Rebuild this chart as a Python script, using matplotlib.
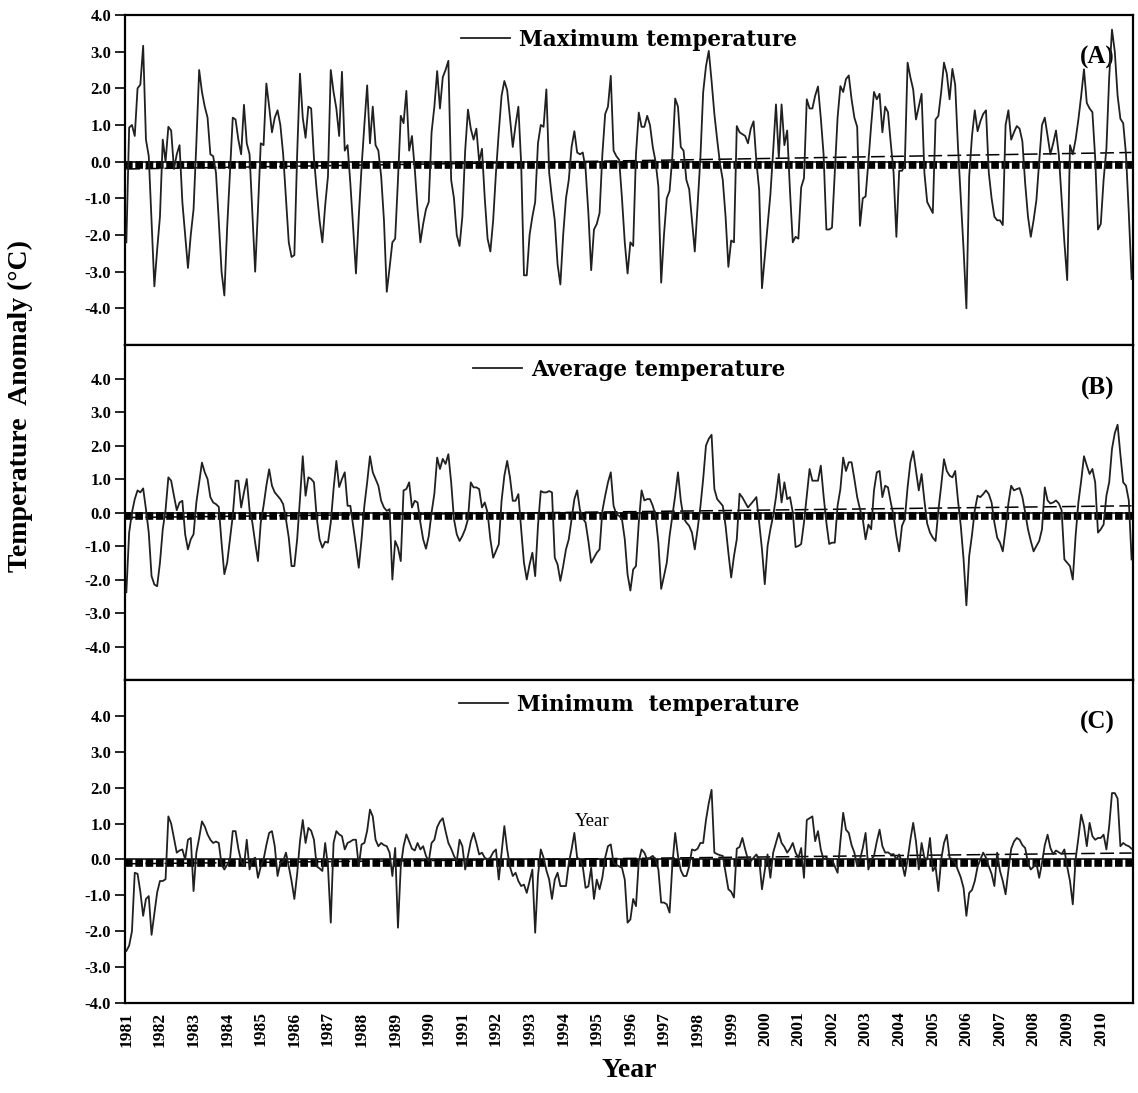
#!/usr/bin/env python3
import matplotlib
import matplotlib.figure
import numpy as np
from matplotlib.ticker import FormatStrFormatter


YEARS = list(range(1981, 2011))

# monthly anomalies in deg C, one row per year (Jan..Dec)
TMAX = [
    -2.2, 0.93, 1.0, 0.7, 2.0, 2.1, 3.16, 0.6, 0.15, -1.6, -3.4, -2.4,       # 1981
    -1.5, 0.6, 0.0, 0.95, 0.85, -0.2, 0.2, 0.45, -1.1, -2.0, -2.9, -2.0,     # 1982
    -1.3, 0.5, 2.5, 1.9, 1.5, 1.2, 0.2, 0.15, -0.3, -1.6, -3.0, -3.65,       # 1983
    -1.8, -0.3, 1.2, 1.15, 0.6, 0.2, 1.55, 0.5, 0.2, -1.4, -3.0, -1.3,       # 1984
    0.5, 0.45, 2.13, 1.5, 0.8, 1.2, 1.4, 1.0, 0.2, -1.0, -2.2, -2.6,         # 1985
    -2.55, 0.2, 2.4, 1.2, 0.65, 1.5, 1.45, 0.1, -0.8, -1.6, -2.2, -1.2,      # 1986
    -0.4, 2.5, 1.9, 1.45, 0.7, 2.45, 0.3, 0.45, -0.6, -1.8, -3.05, -1.5,     # 1987
    -0.15, 1.0, 2.08, 0.5, 1.5, 0.45, 0.3, -0.4, -1.6, -3.55, -2.9, -2.2,    # 1988
    -2.1, -0.5, 1.25, 1.05, 1.93, 0.3, 0.7, -0.2, -1.3, -2.2, -1.7, -1.3,    # 1989
    -1.1, 0.8, 1.5, 2.47, 1.45, 2.3, 2.5, 2.75, -0.5, -1.0, -2.0, -2.3,      # 1990
    -1.5, 0.3, 1.42, 0.9, 0.6, 0.9, 0.0, 0.35, -1.0, -2.1, -2.45, -1.6,      # 1991
    -0.3, 0.8, 1.8, 2.2, 1.95, 1.2, 0.4, 1.0, 1.5, -0.05, -3.1, -3.1,        # 1992
    -2.0, -1.5, -1.1, 0.5, 1.0, 0.95, 1.97, -0.3, -1.0, -1.6, -2.8, -3.35,   # 1993
    -2.0, -1.0, -0.5, 0.4, 0.83, 0.25, 0.2, 0.25, -0.2, -1.4, -2.96, -1.85,  # 1994
    -1.7, -1.4, 0.2, 1.3, 1.5, 2.34, 0.3, 0.15, 0.05, -1.0, -2.2, -3.05,     # 1995
    -2.2, -2.3, 0.2, 1.34, 0.95, 0.95, 1.25, 1.0, 0.4, 0.0, -0.68, -3.3,     # 1996
    -2.0, -1.0, -0.8, 0.15, 1.72, 1.5, 0.4, 0.3, -0.5, -0.75, -1.6, -2.45,   # 1997
    -1.2, 0.1, 1.9, 2.6, 3.02, 2.2, 1.3, 0.6, -0.05, -0.5, -1.5, -2.87,      # 1998
    -2.15, -2.2, 0.97, 0.8, 0.75, 0.7, 0.5, 0.9, 1.1, 0.0, -0.77, -3.45,     # 1999
    -2.6, -1.75, -0.9, 0.3, 1.56, 0.1, 1.56, 0.45, 0.85, -0.8, -2.2, -2.05,  # 2000
    -2.1, -0.7, -0.45, 1.7, 1.45, 1.45, 1.8, 2.05, 1.2, 0.2, -1.85, -1.85,   # 2001
    -1.8, -0.3, 1.2, 2.06, 1.9, 2.25, 2.35, 1.7, 1.2, 0.95, -1.75, -1.0,     # 2002
    -0.95, 0.0, 1.0, 1.9, 1.7, 1.85, 0.8, 1.5, 1.35, 0.5, -0.3, -2.05,       # 2003
    -0.25, -0.25, -0.1, 2.7, 2.3, 1.97, 1.15, 1.5, 1.85, -0.3, -1.1, -1.25,  # 2004
    -1.4, 1.15, 1.25, 1.9, 2.7, 2.4, 1.7, 2.53, 2.1, 0.4, -1.0, -2.4,        # 2005
    -4.0, -0.4, 0.7, 1.4, 0.83, 1.1, 1.3, 1.4, -0.3, -1.0, -1.5, -1.6,       # 2006
    -1.6, -1.73, 1.0, 1.4, 0.6, 0.8, 0.97, 0.9, 0.55, -0.6, -1.5, -2.05,     # 2007
    -1.6, -1.05, 0.0, 1.0, 1.2, 0.7, 0.2, 0.5, 0.85, 0.2, -1.0, -2.2,        # 2008
    -3.23, 0.45, 0.2, 0.6, 1.15, 1.8, 2.52, 1.6, 1.45, 1.35, 0.1, -1.85,     # 2009
    -1.7, -0.5, 0.35, 2.3, 3.6, 3.0, 1.8, 1.17, 1.05, 0.2, -1.4, -3.2,       # 2010
]

TAVG = [
    -2.38, -0.6, 0.0, 0.4, 0.66, 0.6, 0.72, 0.1, -0.6, -1.9, -2.15, -2.2,    # 1981
    -1.5, -0.5, 0.07, 1.05, 0.95, 0.5, 0.07, 0.3, 0.35, -0.65, -1.1, -0.8,   # 1982
    -0.65, 0.3, 0.9, 1.49, 1.2, 1.0, 0.46, 0.3, 0.25, 0.17, -0.9, -1.84,     # 1983
    -1.5, -0.8, -0.1, 0.95, 0.95, 0.15, 0.6, 1.0, 0.07, -0.3, -0.9, -1.45,   # 1984
    -0.3, 0.2, 0.8, 1.29, 0.8, 0.6, 0.5, 0.4, 0.25, -0.2, -0.75, -1.6,       # 1985
    -1.6, -0.8, 0.4, 1.68, 0.5, 1.05, 1.0, 0.9, -0.17, -0.8, -1.05, -0.87,   # 1986
    -0.9, -0.3, 0.7, 1.54, 0.76, 1.0, 1.2, 0.2, 0.2, -0.4, -1.0, -1.65,      # 1987
    -0.8, 0.2, 0.9, 1.68, 1.2, 1.0, 0.8, 0.35, 0.15, 0.05, 0.1, -2.0,        # 1988
    -0.85, -1.05, -1.45, 0.66, 0.7, 0.9, 0.15, 0.35, 0.3, -0.3, -0.8, -1.08, # 1989
    -0.7, 0.0, 0.56, 1.64, 1.3, 1.6, 1.45, 1.74, 0.9, -0.2, -0.65, -0.85,    # 1990
    -0.7, -0.5, -0.2, 0.9, 0.75, 0.75, 0.7, 0.15, 0.3, 0.0, -0.8, -1.35,     # 1991
    -1.15, -0.95, 0.35, 1.1, 1.54, 1.05, 0.35, 0.35, 0.55, -0.5, -1.5, -2.0, # 1992
    -1.55, -1.2, -1.9, -0.4, 0.64, 0.6, 0.6, 0.64, 0.6, -1.35, -1.55, -2.04, # 1993
    -1.6, -1.1, -0.8, -0.2, 0.4, 0.66, 0.07, -0.17, -0.3, -0.85, -1.5, -1.35,  # 1994
    -1.2, -1.1, 0.05, 0.5, 0.9, 1.2, 0.2, -0.05, -0.1, -0.2, -0.8, -1.85,    # 1995
    -2.33, -1.7, -1.6, -0.3, 0.66, 0.36, 0.4, 0.4, 0.2, -0.1, -0.9, -2.28,   # 1996
    -1.9, -1.5, -0.7, -0.1, 0.5, 1.2, 0.36, -0.17, -0.3, -0.4, -0.6, -1.1,   # 1997
    -0.5, 0.17, 1.0, 2.0, 2.2, 2.32, 0.7, 0.4, 0.3, 0.2, -0.4, -1.2,         # 1998
    -1.94, -1.3, -0.8, 0.56, 0.45, 0.3, 0.15, 0.25, 0.35, 0.46, -0.3, -1.1,  # 1999
    -2.14, -1.0, -0.5, -0.1, 0.46, 1.15, 0.3, 0.9, 0.4, 0.46, 0.0, -1.03,    # 2000
    -1.0, -0.94, -0.3, 0.5, 1.3, 0.95, 0.95, 0.95, 1.4, 0.5, -0.3, -0.94,    # 2001
    -0.9, -0.9, 0.2, 0.7, 1.64, 1.24, 1.5, 1.5, 1.0, 0.46, 0.1, -0.2,        # 2002
    -0.8, -0.36, -0.5, 0.66, 1.2, 1.24, 0.46, 0.8, 0.75, 0.3, -0.1, -0.7,    # 2003
    -1.16, -0.4, -0.2, 0.75, 1.5, 1.83, 1.24, 0.66, 1.15, 0.36, -0.33, -0.6, # 2004
    -0.75, -0.85, 0.07, 0.8, 1.59, 1.24, 1.1, 1.05, 1.24, 0.36, -0.4, -1.4,  # 2005
    -2.77, -1.3, -0.67, 0.07, 0.5, 0.46, 0.55, 0.66, 0.55, 0.3, -0.3, -0.75, # 2006
    -0.9, -1.16, -0.5, 0.27, 0.8, 0.66, 0.7, 0.73, 0.46, 0.0, -0.5, -0.85,   # 2007
    -1.16, -1.0, -0.85, -0.5, 0.75, 0.36, 0.27, 0.3, 0.36, 0.27, 0.07, -1.4, # 2008
    -1.5, -1.6, -2.0, -0.7, 0.3, 0.95, 1.68, 1.4, 1.15, 1.3, 0.9, -0.6,      # 2009
    -0.5, -0.36, 0.5, 0.9, 1.9, 2.37, 2.62, 1.73, 0.9, 0.8, 0.36, -1.4,      # 2010
]

TMIN = [
    -2.55, -2.4, -2.0, -0.37, -0.4, -0.9, -1.57, -1.1, -1.02, -2.1, -1.5, -0.92,  # 1981
    -0.6, -0.6, -0.55, 1.2, 1.0, 0.6, 0.19, 0.25, 0.28, 0.0, 0.55, 0.6,      # 1982
    -0.88, 0.19, 0.6, 1.06, 0.92, 0.7, 0.55, 0.46, 0.5, 0.46, -0.14, -0.28,  # 1983
    -0.15, 0.0, 0.79, 0.79, 0.3, -0.05, -0.19, 0.55, -0.28, 0.0, 0.05, -0.51,  # 1984
    -0.2, 0.0, 0.4, 0.74, 0.79, 0.37, -0.46, -0.1, -0.05, 0.19, -0.19, -0.6, # 1985
    -1.1, -0.4, 0.5, 1.1, 0.46, 0.88, 0.8, 0.55, -0.19, -0.25, -0.32, 0.46,  # 1986
    -0.19, -1.76, 0.46, 0.79, 0.7, 0.65, 0.28, 0.46, 0.5, 0.55, 0.55, -0.19, # 1987
    0.42, 0.46, 0.8, 1.39, 1.2, 0.55, 0.37, 0.46, 0.4, 0.37, 0.19, -0.46,    # 1988
    0.32, -1.9, -0.2, 0.37, 0.7, 0.5, 0.3, 0.25, 0.46, 0.28, 0.37, 0.1,      # 1989
    -0.05, 0.46, 0.55, 0.9, 1.06, 1.15, 0.79, 0.46, 0.3, 0.1, -0.05, 0.55,   # 1990
    0.37, -0.28, 0.1, 0.5, 0.74, 0.46, 0.14, 0.19, 0.05, 0.0, 0.05, 0.2,     # 1991
    0.28, -0.56, 0.19, 0.93, 0.28, -0.2, -0.46, -0.37, -0.6, -0.74, -0.7, -0.93,  # 1992
    -0.6, -0.28, -2.04, -0.46, 0.28, 0.05, -0.3, -0.56, -1.1, -0.56, -0.37, -0.74,  # 1993
    -0.74, -0.74, -0.1, 0.28, 0.74, 0.05, 0.0, -0.19, -0.79, -0.75, -0.23, -1.1,  # 1994
    -0.56, -0.83, -0.5, 0.05, 0.37, 0.42, -0.1, -0.15, -0.19, -0.23, -0.56, -1.76,  # 1995
    -1.67, -1.1, -1.3, -0.05, 0.28, 0.19, 0.0, 0.05, 0.1, 0.0, -0.28, -1.2,  # 1996
    -1.2, -1.25, -1.48, -0.14, 0.74, 0.1, -0.3, -0.46, -0.46, -0.19, 0.28, 0.25,  # 1997
    0.3, 0.46, 0.46, 1.1, 1.57, 1.94, 0.19, 0.15, 0.12, 0.1, -0.37, -0.83,   # 1998
    -0.9, -1.06, 0.3, 0.35, 0.6, 0.28, 0.0, -0.05, 0.05, 0.14, 0.0, -0.83,   # 1999
    -0.3, 0.14, -0.51, 0.19, 0.46, 0.74, 0.46, 0.35, 0.19, 0.3, 0.46, 0.19,  # 2000
    0.05, 0.32, -0.51, 1.1, 1.15, 1.2, 0.51, 0.79, 0.28, 0.0, 0.05, 0.0,     # 2001
    0.0, -0.19, -0.37, 0.5, 1.3, 0.83, 0.74, 0.4, 0.19, -0.19, 0.0, 0.32,    # 2002
    0.74, -0.28, 0.0, 0.1, 0.5, 0.83, 0.37, 0.19, 0.2, 0.14, 0.15, 0.0,      # 2003
    0.14, -0.1, -0.46, 0.0, 0.55, 1.02, 0.5, -0.28, 0.46, 0.05, 0.0, 0.6,    # 2004
    -0.32, -0.2, -0.88, 0.0, 0.46, 0.69, 0.05, 0.0, -0.1, -0.3, -0.5, -0.8,  # 2005
    -1.57, -0.93, -0.85, -0.6, -0.2, 0.0, 0.19, 0.05, -0.19, -0.4, -0.74, 0.19,  # 2006
    -0.32, -0.6, -0.97, -0.3, 0.3, 0.5, 0.6, 0.55, 0.4, 0.32, -0.1, -0.28,   # 2007
    -0.2, -0.1, -0.51, -0.1, 0.4, 0.69, 0.32, 0.15, 0.25, 0.2, 0.15, 0.28,   # 2008
    -0.2, -0.6, -1.25, 0.0, 0.6, 1.25, 0.93, 0.37, 1.02, 0.65, 0.55, 0.6,    # 2009
    0.6, 0.69, 0.28, 0.93, 1.85, 1.85, 1.7, 0.37, 0.46, 0.4, 0.37, 0.3,      # 2010
]

# linear trend: value at the first and at the last month
TMAX_TREND = [-0.2, 0.25]
TAVG_TREND = [-0.15, 0.2]
TMIN_TREND = [-0.12, 0.18]
BASELINE = -0.1

PANELS = [
    (TMAX, TMAX_TREND, 'Maximum temperature', '(A)', (-5, 4)),
    (TAVG, TAVG_TREND, 'Average temperature', '(B)', (-5, 5)),
    (TMIN, TMIN_TREND, 'Minimum  temperature', '(C)', (-4, 5)),
]

matplotlib.rcParams.update({
    'font.family': 'Liberation Serif',
    'font.weight': 'bold',
    'axes.linewidth': 1.6,
})

LEGEND_FONT = {'family': 'DejaVu Serif', 'weight': 'bold', 'size': 15.5}


def draw_panel(ax, values, trend, name, tag, ylim):
    months = np.arange(len(values))
    ax.axhline(0, color='black', lw=1.1, zorder=1)
    ax.axhline(BASELINE, color='black', lw=5.5, linestyle=(0, (1.0, 0.35)),
               dash_capstyle='butt', zorder=2)
    ax.plot([months[0], months[-1]], trend, color='black', lw=1.1,
            linestyle=(0, (9, 3.5)), zorder=3)
    line, = ax.plot(months, values, color='#202020', lw=1.3, zorder=4, label=name)

    ax.set_xlim(-0.5, len(values) - 0.5)
    ax.set_ylim(*ylim)
    ax.set_yticks(range(-4, 5))
    ax.yaxis.set_major_formatter(FormatStrFormatter('%.1f'))
    ax.tick_params(axis='y', direction='out', length=7, width=1.2, labelsize=12, pad=3)
    ax.set_xticks(months[::12])
    ax.tick_params(axis='x', length=0)

    ax.legend(handles=[line], loc='upper center', bbox_to_anchor=(0.5, 1.0),
              frameon=False, prop=LEGEND_FONT, handlelength=2.3,
              handletextpad=0.4, borderaxespad=0.25)
    ax.text(0.982, 0.87, tag, transform=ax.transAxes, ha='right', va='center',
            fontsize=18, fontweight='bold')


def main():
    fig = matplotlib.figure.Figure(figsize=(11.38, 10.93), dpi=100)
    gs = fig.add_gridspec(3, 1, left=0.1098, right=0.9956, top=0.9863, bottom=0.0823,
                          hspace=0, height_ratios=[330, 335, 323])
    axes = [fig.add_subplot(gs[i]) for i in range(3)]

    for ax, (values, trend, name, tag, ylim) in zip(axes, PANELS):
        draw_panel(ax, values, trend, name, tag, ylim)

    for ax in axes[:2]:
        ax.set_xticklabels([])

    bottom = axes[2]
    bottom.set_xticklabels([str(y) for y in YEARS], rotation=90, fontsize=12.5)
    bottom.tick_params(axis='x', pad=6)
    bottom.set_xlabel('Year', fontsize=20, fontweight='bold', labelpad=8)
    bottom.text(0.463, 0.563, 'Year', transform=bottom.transAxes, ha='center',
                va='center', fontsize=13.5, fontweight='normal')

    fig.text(0.0176, 0.629, 'Temperature  Anomaly (\u00b0C)', rotation=90,
             ha='center', va='center', fontsize=20, fontweight='bold')

    fig.savefig('out.png', dpi=100)


if __name__ == '__main__':
    main()
